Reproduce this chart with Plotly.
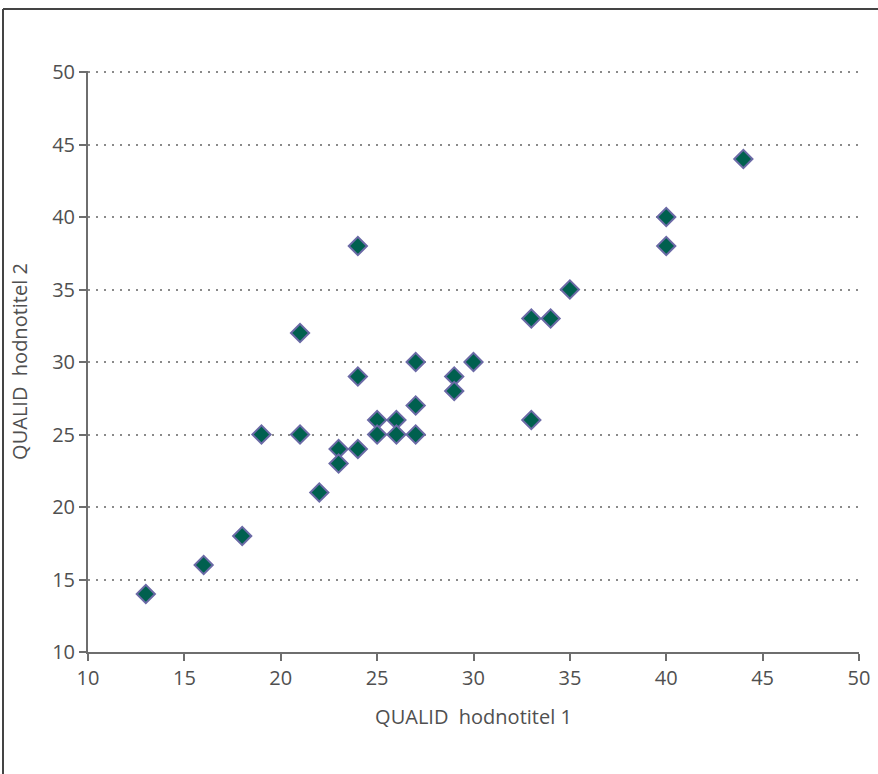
import plotly.graph_objects as go

rater1 = [13, 16, 18, 19, 21, 21, 22, 23, 23, 24, 24, 24, 25, 25, 26, 26, 27, 27, 27, 29, 29, 30, 33, 33, 34, 35, 40, 40, 44]
rater2 = [14, 16, 18, 25, 32, 25, 21, 24, 23, 38, 29, 24, 26, 25, 26, 25, 30, 27, 25, 29, 28, 30, 33, 26, 33, 35, 40, 38, 44]

x_title = "QUALID  hodnotitel 1"
y_title = "QUALID  hodnotitel 2"
tick_vals = [10, 15, 20, 25, 30, 35, 40, 45, 50]

W, H = 878, 774
ml, mr, mt, mb = 88, 19, 71, 122
pw, ph = W - ml - mr, H - mt - mb

fig = go.Figure()
fig.add_trace(go.Scatter(
    x=rater1, y=rater2, mode="markers",
    marker=dict(symbol="diamond", size=14, color="#00604f",
                line=dict(color="#6b6aa6", width=2)),
    showlegend=False, hoverinfo="x+y"))

font = dict(family="Open Sans, Noto Sans, sans-serif", size=20, color="#505050")

fig.update_layout(
    width=W, height=H,
    margin=dict(l=ml, r=mr, t=mt, b=mb, autoexpand=False),
    paper_bgcolor="white", plot_bgcolor="white",
    font=font,
    xaxis=dict(range=[10, 50], tickvals=tick_vals, showgrid=False, zeroline=False,
               showline=True, linecolor="#6e6e6e", linewidth=2,
               ticks="outside", ticklen=7, tickwidth=2, tickcolor="#6e6e6e",
               tickfont=font, automargin=False,
               title=dict(text=x_title, font=font, standoff=20)),
    yaxis=dict(range=[10, 50.07], tickvals=tick_vals, showgrid=True, gridcolor="#8a8a8a",
               gridwidth=1.5, griddash="1.5px,6.5px", zeroline=False,
               showline=True, linecolor="#6e6e6e", linewidth=2,
               ticks="outside", ticklen=7, tickwidth=2, tickcolor="#6e6e6e",
               tickfont=font, automargin=False,
               title=dict(text=y_title, font=font, standoff=19)),
)

# outer frame (top and left edges)
top_y = 1 + (mt - 9) / ph
left_x = (3 - ml) / pw
fig.add_shape(type="line", xref="paper", yref="paper",
              x0=left_x, x1=1 + (mr + 10) / pw, y0=top_y, y1=top_y,
              line=dict(color="#444444", width=2))
fig.add_shape(type="line", xref="paper", yref="paper",
              x0=left_x, x1=left_x, y0=top_y, y1=-(mb + 10) / ph,
              line=dict(color="#444444", width=2))

fig.write_html("out.html", config={"displayModeBar": False},
               post_script="document.body.style.margin='0';")
